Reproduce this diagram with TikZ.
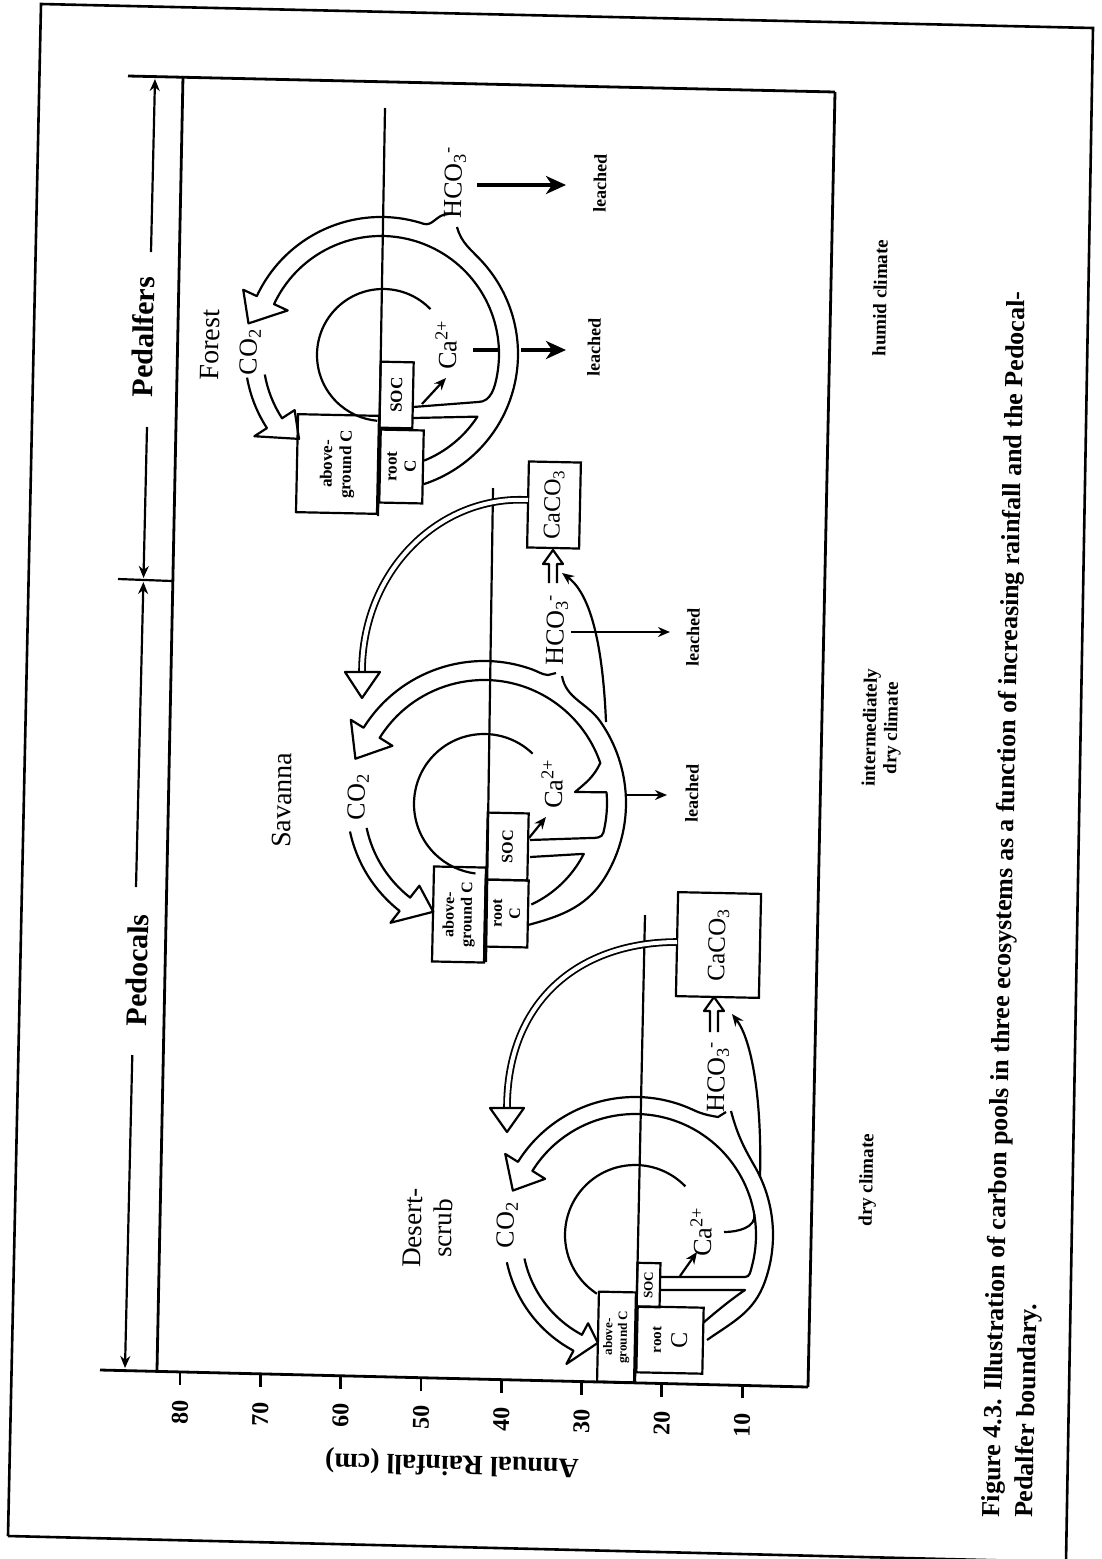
\documentclass[tikz,border=0pt]{standalone}
\usepackage{fontspec}
\setmainfont{Liberation Serif}
\usetikzlibrary{arrows.meta,calc}
\newcommand\fsz[1]{\fontsize{#1}{\fpeval{1.12*#1}}\selectfont}
\begin{document}
\begin{tikzpicture}[x=1pt,y=1pt,
  ln/.style={line width=2.2pt, line join=round},
  thk/.style={line width=2.8pt},
  txt/.style={rotate=88.8, inner sep=0pt, align=center},
  boxn/.style={draw, line width=2.2pt, rotate=88.8, inner sep=0pt, align=center, font=\bfseries\fsz{16}},
  sth/.style={-{Stealth[length=12pt,width=10pt]}},
  bigsth/.style={-{Stealth[length=20pt,width=18pt,inset=6pt]}},
  lab/.style={txt, font=\fsz{26}},
  lea/.style={txt, font=\bfseries\fsz{18}},
  clim/.style={txt, font=\bfseries\fsz{19}}]
\useasboundingbox (0,0) rectangle (1102,-1559);
\fill[white] (0,0) rectangle (1102,-1559);

% page frame
\draw[line width=2.6pt] (8,-1536) -- (41,-4) -- (1093,-28) -- (1066,-1562);
\draw[line width=2.6pt] (8,-1536) -- (1066,-1562);

% plot box
\draw[thk] (128,-76) -- (835,-92);
\draw[thk] (183,-76) -- (157,-1370);
\draw[thk] (100,-1370) -- (808,-1387);
\draw[thk] (835,-92) -- (808,-1387);

% Pedalfers / Pedocals ranges
\draw[ln, sth] (151,-252) -- (155,-79);
\draw[ln, sth] (147,-427) -- (143.5,-578);
\draw[ln, sth] (136,-887) -- (143.4,-582);
\draw[ln, sth] (132.3,-1055) -- (125,-1368);
\draw[ln] (118,-579) -- (172,-581);
\node[txt, font=\bfseries\fsz{30}] (pedalf) at (143,-337) {Pedalfers};
\node[txt, font=\bfseries\fsz{30}] (pedoc) at (137,-970) {Pedocals};

% axis ticks
\foreach \v [count=\k from 0] in {80,70,...,10} {
  \pgfmathsetmacro\xx{180+80.3*\k}
  \pgfmathsetmacro\yy{-(1370+(\xx-100)*0.024)}
  \draw[thk] (\xx,\yy) -- (\xx,\yy-13);
  \node[txt, font=\bfseries\fsz{24}] (t\v) at (\xx,\yy-40) {\v};
}
\node[rotate=178.7, inner sep=0pt, font=\bfseries\fsz{28}] (axt) at (452,-1463) {Annual Rainfall (cm)};

% ================= FOREST =================
\coordinate (F) at (381,-354);
\draw[ln] (385,-108) -- (378,-516);
\node[boxn, minimum width=98pt, minimum height=81pt, font=\bfseries\fsz{17}] (fAG) at (337.5,-464) {above-\\ground C};
\node[boxn, minimum width=66pt, minimum height=33pt, font=\bfseries\fsz{17}] (fSOC) at (396.5,-395) {SOC};
\node[boxn, minimum width=73pt, minimum height=43pt, font=\bfseries\fsz{17}] (fRC) at (401.5,-466.5) {root\\C};
\draw[ln] ($(F)+(2,-1)+(44:66)$) arc[start angle=44,end angle=265,radius=66];
\draw[ln] ($(F)+(-72:137)$) arc[start angle=-72,end angle=42,radius=137] to[out=132,in=-75] (457,-227);
\draw[ln] (453,-213) -- (443,-215) to[out=200,in=-18] ($(F)+(72:137)$)
  arc[start angle=72,end angle=155,radius=137] -- ($(F)+(155:152)$) -- ($(F)+(167:136)$)
  -- ($(F)+(155:103)$) -- ($(F)+(155:118)$) arc[start angle=155,end angle=-10,radius=118]
  to[out=-100,in=0] (478,-402) -- (413,-407);
\draw[ln] ($(F)+(-68:115)$) arc[start angle=-68,end angle=-33,radius=115] -- (413,-418);
\draw[ln] ($(F)+(190:136)$) arc[start angle=190,end angle=213,radius=136] -- ($(F)+(213:151)$)
  -- ($(F)+(226:118)$) -- ($(F)+(213:103)$) -- ($(F)+(213:118)$) arc[start angle=213,end angle=190,radius=118];
\node[txt, font=\fsz{28}] (forest) at (210,-345) {Forest};
\node[lab] (fco2) at (250,-352) {CO\textsubscript{2}};
\node[lab] (fca) at (446,-345) {Ca\textsuperscript{2+}};
\node[lab] (fhco) at (455,-183) {HCO\textsubscript{3}\textsuperscript{-}};
\draw[ln, sth] (422,-404) -- (446,-378);
\draw[line width=4pt] (473,-350) -- (500,-350);
\draw[line width=4pt, bigsth] (521,-350) -- (566,-350);
\draw[line width=4pt, bigsth] (477,-185) -- (566,-185);
\node[lea] (fl1) at (600,-183) {leached};
\node[lea] (fl2) at (594,-347) {leached};

% ================= SAVANNA =================
\coordinate (S) at (484,-803);
\draw[ln] (493,-488) -- (486,-962);
\node[boxn, minimum width=95pt, minimum height=52pt] (sAG) at (459,-914.5) {above-\\ground C};
\node[boxn, minimum width=67pt, minimum height=41pt] (sSOC) at (507.5,-846.5) {SOC};
\node[boxn, minimum width=67pt, minimum height=43pt] (sRC) at (506.5,-913.5) {root\\C};
\node[boxn, minimum width=86pt, minimum height=52pt, font=\fsz{24}] (sCa) at (554,-505) {CaCO\textsubscript{3}};
\draw[ln] ($(S)+(0,-1)+(46:70)$) arc[start angle=46,end angle=263,radius=70];
\draw[ln] (528,-925) to[out=15,in=-120] ($(S)+(-30:142)$) arc[start angle=-30,end angle=35,radius=142] to[out=125,in=-80] (562,-676);
\draw[ln] (556,-673) -- (548,-675) to[out=175,in=-20] ($(S)+(70:142)$)
  arc[start angle=70,end angle=148,radius=142] -- ($(S)+(148:157)$) -- ($(S)+(161:136)$)
  -- ($(S)+(148:108)$) -- ($(S)+(148:123)$) arc[start angle=148,end angle=19,radius=123]
  to[out=-115,in=40] (575,-792) -- ($(S)+(5:123)$) arc[start angle=5,end angle=-14,radius=123]
  to[out=-104,in=0] (590,-838) -- (530,-840);
\draw[ln] ($(S)+(-65:112)$) arc[start angle=-65,end angle=-27,radius=112] -- (530,-857);
\draw[ln] ($(S)+(192:137)$) arc[start angle=192,end angle=232,radius=137] -- ($(S)+(232:152)$)
  -- ($(S)+(245:120)$) -- ($(S)+(232:105)$) -- ($(S)+(232:120)$) arc[start angle=232,end angle=192,radius=120];
\node[txt, font=\fsz{28}] (savanna) at (282,-800) {Savanna};
\node[lab] (sco2) at (358,-797) {CO\textsubscript{2}};
\node[lab] (sca) at (552,-784) {Ca\textsuperscript{2+}};
\node[lab] (shco) at (557,-630) {HCO\textsubscript{3}\textsuperscript{-}};
\draw[ln, sth] (529,-838) -- (546,-817);
\draw[ln, sth] (625,-795) -- (667,-795);
\draw[ln, sth] (571,-632) -- (670,-632);
\node[lea] (sl1) at (693,-637) {leached};
\node[lea] (sl2) at (692,-793) {leached};
\draw[ln] (549,-583) -- (549,-564) -- (543,-564) -- (553,-550) -- (563,-564) -- (557,-564) -- (557,-583);
\draw[ln, sth] (606,-722) .. controls (603,-650) and (592,-595) .. (562,-573);
\draw[line width=1.8pt, double distance=4pt] (528,-500) .. controls (440,-495) and (362,-570) .. (362,-672);
\draw[ln, fill=white] (345,-672) -- (362,-698) -- (380,-672) -- cycle;

% ================= DESERT =================
\coordinate (D) at (635,-1235);
\draw[ln] (645,-915) -- (635,-1383);
\node[boxn, minimum width=90pt, minimum height=37pt, font=\bfseries\fsz{13}] (dAG) at (616.5,-1337) {above-\\ground C};
\node[boxn, minimum width=44pt, minimum height=23pt, font=\bfseries\fsz{13}] (dSOC) at (648.5,-1285) {SOC};
\node[boxn, minimum width=66pt, minimum height=66pt, font=\bfseries\fsz{15}] (dRC) at (670,-1340) {root\\[9pt]{\fsz{24}\mdseries C}};
\node[boxn, minimum width=104pt, minimum height=83pt, font=\fsz{25}] (dCa) at (718.5,-945) {CaCO\textsubscript{3}};
\draw[ln] ($(D)+(44:70)$) arc[start angle=44,end angle=237,radius=70];
\draw[ln] (707,-1340) to[out=35,in=-110] ($(D)+(-20:138)$) arc[start angle=-20,end angle=30,radius=138] to[out=120,in=-75] (731,-1111);
\draw[ln] (726,-1112) -- (718,-1117) to[out=170,in=-25] ($(D)+(65:138)$)
  arc[start angle=65,end angle=148,radius=138] -- ($(D)+(148:153)$) -- ($(D)+(160:130)$)
  -- ($(D)+(148:106)$) -- ($(D)+(148:121)$) arc[start angle=148,end angle=-15,radius=121]
  to[out=-105,in=0] (745,-1277) -- (660,-1277);
\draw[ln] (724,-1232) to[out=0,in=-80] ($(D)+(10:121)$);
\draw[ln] (703,-1323) .. controls (718,-1310) and (733,-1298) .. (745,-1290) -- (660,-1290);
\draw[ln] ($(D)+(192:131)$) arc[start angle=192,end angle=242,radius=131] -- ($(D)+(242:146)$)
  -- ($(D)+(251:114)$) -- ($(D)+(242:100)$) -- ($(D)+(242:113)$) arc[start angle=242,end angle=192,radius=113];
\node[txt, font=\fsz{27}] (desert) at (428,-1228) {Desert-\\scrub};
\node[lab] (dco2) at (507,-1225) {CO\textsubscript{2}};
\node[lab] (dca) at (701,-1232) {Ca\textsuperscript{2+}};
\node[lab] (dhco) at (718,-1077) {HCO\textsubscript{3}\textsuperscript{-}};
\draw[ln, sth] (680,-1276) -- (697,-1252);
\draw[ln] (710,-1032) -- (710,-1011) -- (704,-1011) -- (714,-997) -- (724,-1011) -- (718,-1011) -- (718,-1032);
\draw[ln, sth] (760,-1177) .. controls (762,-1100) and (752,-1040) .. (732,-1014);
\draw[line width=1.8pt, double distance=4pt] (677,-942) .. controls (580,-942) and (507,-1000) .. (507,-1108);
\draw[ln, fill=white] (490,-1108) -- (507,-1132) -- (524,-1108) -- cycle;

% climates
\node[clim] (hum) at (880,-298) {humid climate};
\node[clim] (intd) at (882,-728) {intermediately\\dry climate};
\node[clim] (dry) at (868,-1180) {dry climate};

% caption
\node[rotate=88.8, anchor=west, inner sep=0pt, font=\bfseries\fsz{26}] (cap1) at (993,-1518) {Figure 4.3. Illustration of carbon pools in three ecosystems as a function of increasing rainfall and the Pedocal-};
\node[rotate=88.8, anchor=west, inner sep=0pt, font=\bfseries\fsz{26}] (cap2) at (1026,-1518) {Pedalfer boundary.};
\end{tikzpicture}
\end{document}
